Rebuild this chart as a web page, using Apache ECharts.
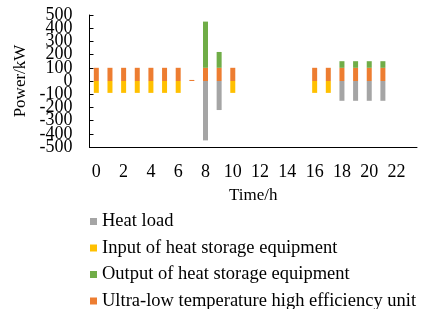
<!DOCTYPE html>
<html><head><meta charset="utf-8">
<script src="https://cdn.jsdelivr.net/npm/echarts@6/dist/echarts.min.js"></script>
<style>html,body{margin:0;padding:0;background:#fff}#c{width:422px;height:309px}</style>
</head><body><div id="c"></div>
<script>
const hours = ['0','1','2','3','4','5','6','7','8','9','10','11','12','13','14','15','16','17','18','19','20','21','22','23'];
const heatLoad = [null,null,null,null,null,null,null,null,-450,-220,null,null,null,null,null,null,null,null,-150,-150,-150,-150,null,null];
const storageInput = [-90,-90,-90,-90,-90,-90,-90,null,null,null,-90,null,null,null,null,null,-90,-90,null,null,null,null,null,null];
const storageOutput = [null,null,null,null,null,null,null,null,350,120,null,null,null,null,null,null,null,null,50,50,50,50,null,null];
const unitOutput = [100,100,100,100,100,100,100,8,100,100,100,null,null,null,null,null,100,100,100,100,100,100,null,null];
const names = ['Heat load','Input of heat storage equipment','Output of heat storage equipment','Ultra-low temperature high efficiency unit'];
const colors = {'Heat load':'#A5A5A5','Input of heat storage equipment':'#FFC000','Output of heat storage equipment':'#70AD47','Ultra-low temperature high efficiency unit':'#ED7D31'};
const font = 'Liberation Serif';
const chart = echarts.init(document.getElementById('c'));
function bar(name, data){ return {name, type:'bar', stack:'s', data, barWidth:5, itemStyle:{color:colors[name]}}; }
function yLabel(odd){
  return {interval:0, margin:17, fontFamily:font, fontSize:18, color:'#000', hideOverlap:false, showMinLabel:true, showMaxLabel:true,
    formatter: v => ((Math.abs(Math.round(v/100)) % 2 === 1) === odd ? String(v) : '')};
}
chart.setOption({
  animation:false,
  textStyle:{fontFamily:font},
  grid:{left:89.5, right:5, top:15, height:132},
  legend:{orient:'vertical', left:90, top:212, height:110, padding:0, itemWidth:7, itemHeight:7, itemGap:7.5, icon:'rect',
    data:names, textStyle:{fontFamily:font, fontSize:18.5, color:'#000'}},
  xAxis:{type:'category', data:hours, boundaryGap:true,
    name:'Time/h', nameLocation:'middle', nameGap:40, nameTextStyle:{fontFamily:font, fontSize:17, color:'#000'},
    axisLine:{onZero:false, lineStyle:{color:'#000', width:1}},
    axisTick:{inside:true, length:4, interval:0, lineStyle:{color:'#000'}},
    axisLabel:{interval:1, margin:16, fontFamily:font, fontSize:18, color:'#000'}},
  yAxis:[{type:'value', min:-500, max:500, interval:100, position:'left',
    name:'Power/kW', nameLocation:'middle', nameGap:50, nameTextStyle:{fontFamily:font, fontSize:17, color:'#000'},
    axisLine:{show:true, onZero:false, lineStyle:{color:'#000', width:1}},
    axisTick:{show:true, inside:true, length:4, lineStyle:{color:'#000'}},
    splitLine:{show:false},
    axisLabel:yLabel(true)},
   {type:'value', min:-500, max:500, interval:100, position:'left', offset:0,
    axisLine:{show:false}, axisTick:{show:false}, splitLine:{show:false},
    axisLabel:yLabel(false)}],
  series:[
    bar('Ultra-low temperature high efficiency unit', unitOutput),
    bar('Output of heat storage equipment', storageOutput),
    bar('Heat load', heatLoad),
    bar('Input of heat storage equipment', storageInput)
  ]
});
</script></body></html>
